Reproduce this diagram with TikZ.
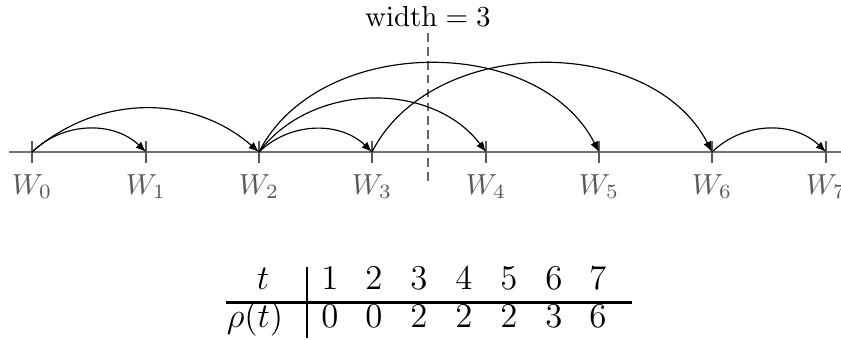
\documentclass[tikz,border=0pt]{standalone}
\usetikzlibrary{arrows.meta}
\begin{document}
\begin{tikzpicture}[x=0.345pt,y=0.345pt,
  axisline/.style={draw=black!55,line width=0.45pt},
  tickline/.style={draw=black!65,line width=0.4pt},
  wlabel/.style={text=black!65,anchor=base,inner sep=0pt,font=\fontsize{10.4}{12}\selectfont},
  jump/.style={draw=black,line width=0.4pt,-{Latex[length=3.6pt,width=2.8pt]}},
  sep/.style={draw=black!60,line width=0.6pt,dash pattern=on 3pt off 1.8pt},
  cell/.style={anchor=base,inner sep=0pt,font=\large}]
\useasboundingbox (0,0) rectangle (841,339);
% axis
\coordinate (axL) at (9,187);
\coordinate (axR) at (841,187);
\draw[axisline] (axL) -- (axR);
\foreach \i/\x in {0/32,1/146,2/259,3/372,4/486,5/599,6/712,7/826}{
  \coordinate (w\i) at (\x,187);
  \draw[tickline] (\x,176) -- (\x,198);
  \node[wlabel] (lw\i) at (\x,145) {$W_{\i}$};
}
% separator
\coordinate (sepT) at (428,306);
\coordinate (sepB) at (428,153);
\draw[sep] (sepT) -- (sepB);
\node[anchor=base,inner sep=0pt] (wid) at (428,313) {$\mathrm{width}=3$};
% jumps
\draw[jump] (w0) to[out=44,in=136] (w1);
\draw[jump] (w0) to[out=41,in=139] (w2);
\draw[jump] (w2) to[out=44,in=136] (w3);
\draw[jump] (w2) to[out=53,in=127] (w4);
\draw[jump] (w2) to[out=63,in=117] (w5);
\draw[jump] (w3) to[out=63,in=117] (w6);
\draw[jump] (w6) to[out=44,in=136] (w7);
% table
\coordinate (hL) at (226,36.3);
\coordinate (hR) at (632,36.3);
\coordinate (vT) at (307,72);
\coordinate (vB) at (307,1);
\draw[line width=1pt] (hL) -- (hR);
\draw[line width=0.6pt] (vT) -- (vB);
\node[cell] (tl) at (263,50) {$t$};
\node[cell] (rl) at (255,12) {$\rho(t)$};
\foreach \k/\x/\v in {1/330/0,2/374/0,3/419/2,4/464/2,5/509/2,6/554/3,7/598/6}{
  \node[cell] (t\k) at (\x,50) {$\k$};
  \node[cell] (r\k) at (\x,12) {$\v$};
}
\end{tikzpicture}
\end{document}
